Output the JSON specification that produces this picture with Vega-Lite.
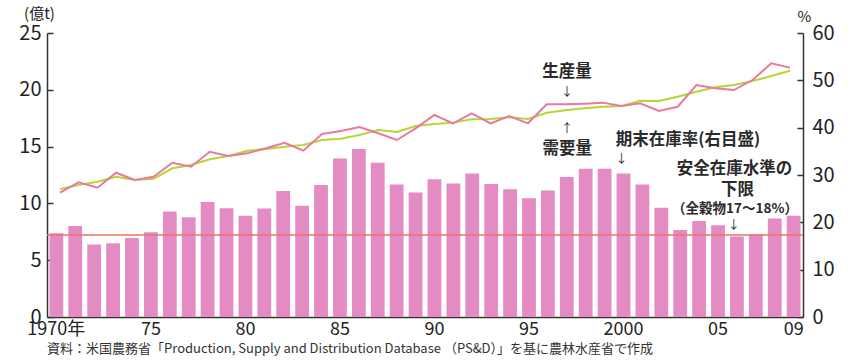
{
  "$schema": "https://vega.github.io/schema/vega-lite/v6.json",
  "width": 756,
  "height": 284,
  "autosize": {"type": "none"},
  "padding": {"left": 47, "top": 33, "right": 58, "bottom": 45},
  "background": "white",
  "config": {
    "font": "Noto Sans CJK JP",
    "view": {"stroke": null},
    "axis": {
      "grid": false,
      "domainColor": "#333333",
      "domainWidth": 1.5,
      "tickColor": "#333333",
      "tickWidth": 1.5,
      "labelColor": "#222222",
      "titleColor": "#222222",
      "labelFont": "Noto Sans CJK JP",
      "titleFont": "Noto Sans CJK JP"
    }
  },
  "title": {
    "text": "資料：米国農務省「Production, Supply and Distribution Database （PS&D）」を基に農林水産省で作成",
    "orient": "bottom",
    "anchor": "start",
    "frame": "group",
    "fontSize": 13,
    "fontWeight": "normal",
    "color": "#333333",
    "offset": 5
  },
  "datasets": {
    "grain": [
      {"year": 1970, "stock": 17.7, "production": 10.94, "demand": 11.27},
      {"year": 1971, "stock": 19.2, "production": 11.86, "demand": 11.62},
      {"year": 1972, "stock": 15.3, "production": 11.38, "demand": 11.91},
      {"year": 1973, "stock": 15.6, "production": 12.70, "demand": 12.35},
      {"year": 1974, "stock": 16.7, "production": 12.06, "demand": 12.06},
      {"year": 1975, "stock": 17.9, "production": 12.35, "demand": 12.17},
      {"year": 1976, "stock": 22.3, "production": 13.58, "demand": 13.09},
      {"year": 1977, "stock": 21.1, "production": 13.23, "demand": 13.38},
      {"year": 1978, "stock": 24.3, "production": 14.55, "demand": 13.88},
      {"year": 1979, "stock": 23.0, "production": 14.17, "demand": 14.17},
      {"year": 1980, "stock": 21.4, "production": 14.41, "demand": 14.64},
      {"year": 1981, "stock": 22.9, "production": 14.85, "demand": 14.79},
      {"year": 1982, "stock": 26.6, "production": 15.34, "demand": 14.99},
      {"year": 1983, "stock": 23.5, "production": 14.64, "demand": 15.14},
      {"year": 1984, "stock": 27.9, "production": 16.11, "demand": 15.58},
      {"year": 1985, "stock": 33.5, "production": 16.37, "demand": 15.70},
      {"year": 1986, "stock": 35.5, "production": 16.73, "demand": 16.02},
      {"year": 1987, "stock": 32.6, "production": 16.17, "demand": 16.46},
      {"year": 1988, "stock": 28.0, "production": 15.58, "demand": 16.29},
      {"year": 1989, "stock": 26.3, "production": 16.61, "demand": 16.81},
      {"year": 1990, "stock": 29.1, "production": 17.78, "demand": 16.99},
      {"year": 1991, "stock": 28.2, "production": 17.05, "demand": 17.11},
      {"year": 1992, "stock": 30.3, "production": 17.93, "demand": 17.40},
      {"year": 1993, "stock": 28.1, "production": 17.05, "demand": 17.43},
      {"year": 1994, "stock": 27.0, "production": 17.69, "demand": 17.58},
      {"year": 1995, "stock": 25.1, "production": 17.05, "demand": 17.43},
      {"year": 1996, "stock": 26.7, "production": 18.72, "demand": 17.98},
      {"year": 1997, "stock": 29.6, "production": 18.72, "demand": 18.19},
      {"year": 1998, "stock": 31.3, "production": 18.78, "demand": 18.37},
      {"year": 1999, "stock": 31.3, "production": 18.87, "demand": 18.51},
      {"year": 2000, "stock": 30.3, "production": 18.57, "demand": 18.57},
      {"year": 2001, "stock": 28.0, "production": 18.81, "demand": 19.04},
      {"year": 2002, "stock": 23.1, "production": 18.13, "demand": 19.01},
      {"year": 2003, "stock": 18.4, "production": 18.51, "demand": 19.39},
      {"year": 2004, "stock": 20.3, "production": 20.42, "demand": 19.83},
      {"year": 2005, "stock": 19.4, "production": 20.13, "demand": 20.22},
      {"year": 2006, "stock": 17.0, "production": 19.98, "demand": 20.42},
      {"year": 2007, "stock": 17.5, "production": 20.86, "demand": 20.77},
      {"year": 2008, "stock": 20.8, "production": 22.33, "demand": 21.21},
      {"year": 2009, "stock": 21.4, "production": 21.95, "demand": 21.68}
    ],
    "notes": [
      {"label": "生産量", "x": 1997.08, "y": 21.6},
      {"label": "需要量", "x": 1997.1, "y": 14.75},
      {"label": "期末在庫率(右目盛)", "x": 2003.55, "y": 15.55},
      {"label": "安全在庫水準の", "x": 2006.03, "y": 13.0},
      {"label": "下限", "x": 2006.19, "y": 11.2}
    ],
    "arrows": [
      {"label": "↓", "x": 1997.08, "y": 19.85},
      {"label": "↑", "x": 1997.08, "y": 16.55},
      {"label": "↓", "x": 2000.0, "y": 13.9},
      {"label": "↓", "x": 2006.0, "y": 8.1}
    ],
    "smallnotes": [
      {"label": "（全穀物17～18%）", "x": 2006.06, "y": 9.55}
    ]
  },
  "layer": [
    {
      "layer": [
        {
          "data": {"name": "grain"},
          "mark": {"type": "bar", "color": "#e38bc2"},
          "encoding": {
            "x": {
              "field": "year",
              "type": "ordinal",
              "scale": {"paddingInner": 0.27, "paddingOuter": 0.13},
              "axis": {
                "title": null,
                "values": [1970, 1975, 1980, 1985, 1990, 1995, 2000, 2005, 2009],
                "labelExpr": "datum.value == 1970 ? '1970年' : datum.value == 2000 ? '2000' : (datum.value % 100 < 10 ? '0' + (datum.value % 100) : '' + (datum.value % 100))",
                "labelAngle": 0,
                "ticks": false,
                "labelFontSize": 18,
                "labelPadding": 3
              }
            },
            "y": {
              "field": "stock",
              "type": "quantitative",
              "scale": {"domain": [0, 60], "nice": false},
              "axis": {
                "orient": "right",
                "values": [0, 10, 20, 30, 40, 50, 60],
                "tickSize": -6,
                "labelPadding": 15,
                "labelFontSize": 20,
                "title": "%",
                "titleAngle": 0,
                "titleFontSize": 15,
                "titleFontWeight": "normal",
                "titleX": 1,
                "titleY": -17,
                "titleAlign": "center",
                "titleBaseline": "middle"
              }
            }
          }
        },
        {
          "data": {"values": [{"stock": 17.3}]},
          "mark": {"type": "rule", "color": "#e9736b", "strokeWidth": 1.5},
          "encoding": {
            "y": {"field": "stock", "type": "quantitative"}
          }
        }
      ]
    },
    {
      "layer": [
        {
          "data": {"name": "grain"},
          "mark": {"type": "line", "color": "#b8d435", "strokeWidth": 2},
          "encoding": {
            "x": {
              "field": "year",
              "type": "quantitative",
              "scale": {"domain": [1969.306, 2009.694], "nice": false, "zero": false},
              "axis": null
            },
            "y": {
              "field": "demand",
              "type": "quantitative",
              "scale": {"domain": [0, 25], "nice": false},
              "axis": {
                "orient": "left",
                "values": [0, 5, 10, 15, 20, 25],
                "tickSize": -6,
                "labelPadding": 12,
                "labelFontSize": 20,
                "title": "(億t)",
                "titleAngle": 0,
                "titleFontSize": 15,
                "titleFontWeight": "normal",
                "titleX": -8,
                "titleY": -20,
                "titleAlign": "center",
                "titleBaseline": "middle"
              }
            }
          }
        },
        {
          "data": {"name": "grain"},
          "mark": {"type": "line", "color": "#e8799f", "strokeWidth": 2},
          "encoding": {
            "x": {"field": "year", "type": "quantitative"},
            "y": {"field": "production", "type": "quantitative"}
          }
        },
        {
          "data": {"name": "notes"},
          "mark": {"type": "text", "fontSize": 16.5, "fontWeight": "bold", "color": "#2a2a2a", "align": "center", "baseline": "middle"},
          "encoding": {
            "x": {"field": "x", "type": "quantitative"},
            "y": {"field": "y", "type": "quantitative"},
            "text": {"field": "label"}
          }
        },
        {
          "data": {"name": "arrows"},
          "mark": {"type": "text", "fontSize": 12, "fontWeight": "normal", "color": "#2a2a2a", "align": "center", "baseline": "middle"},
          "encoding": {
            "x": {"field": "x", "type": "quantitative"},
            "y": {"field": "y", "type": "quantitative"},
            "text": {"field": "label"}
          }
        },
        {
          "data": {"name": "smallnotes"},
          "mark": {"type": "text", "fontSize": 13.5, "fontWeight": "bold", "color": "#2a2a2a", "align": "center", "baseline": "middle"},
          "encoding": {
            "x": {"field": "x", "type": "quantitative"},
            "y": {"field": "y", "type": "quantitative"},
            "text": {"field": "label"}
          }
        }
      ]
    }
  ],
  "resolve": {"scale": {"x": "independent", "y": "independent"}}
}
